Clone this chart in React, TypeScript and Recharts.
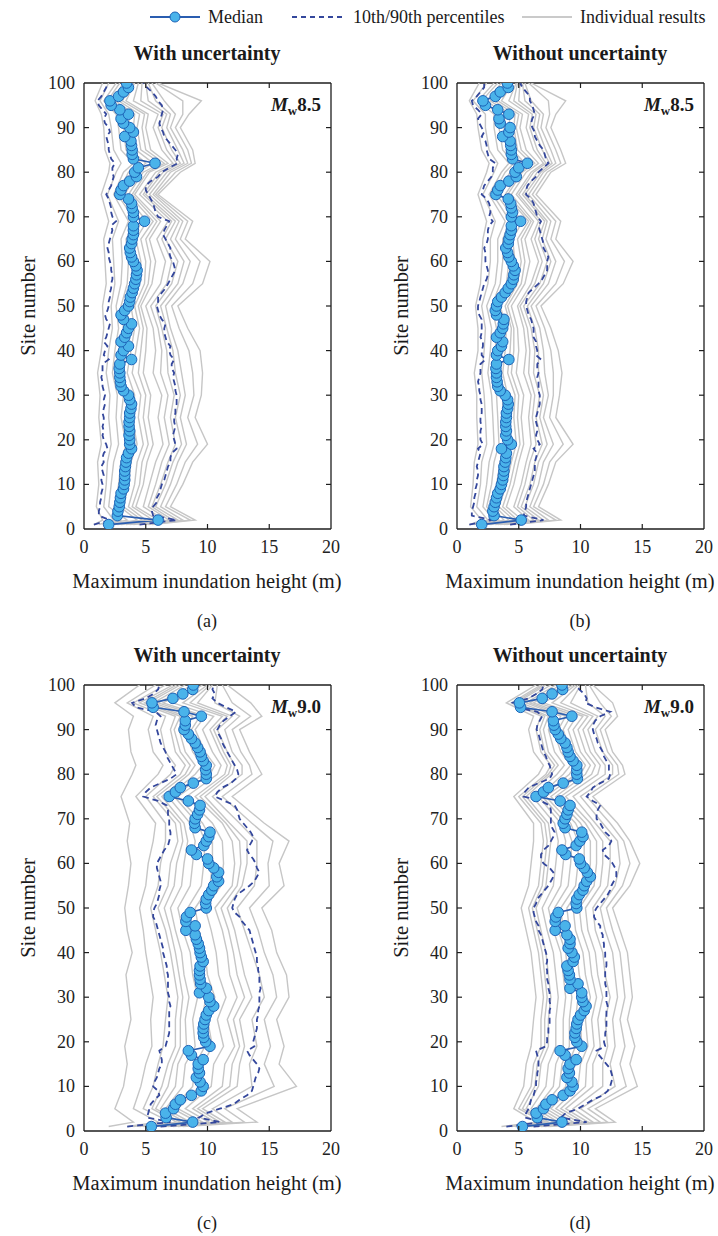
import React from "react";
import { ScatterChart, Scatter, XAxis, YAxis, ReferenceLine } from "recharts";

const FONT = "'Liberation Serif', 'Times New Roman', 'DejaVu Serif', serif";
const AXIS = "#1e1e1e";
const GREY = "#c6c6c6";
const DASH = "#34479c";
const MED_LINE = "#2a5db0";

// site numbers 1..100
const SITES = Array.from({ length: 100 }, (_, i) => i + 1);
const GREY_SITES = [1, 2, 5, 10, 15, 19, 25, 30, 35, 40, 45, 50, 55, 60, 65, 69, 75, 80, 82, 85, 90, 93, 96, 100];
const X_TICKS = [0, 5, 10, 15, 20];
const Y_TICKS = [0, 10, 20, 30, 40, 50, 60, 70, 80, 90, 100];

// ---- (a) Mw 8.5, with uncertainty
const medA = [
  2.0, 6.0, 2.7, 2.75, 2.85, 2.9, 2.95, 3.0, 3.2, 3.25,
  3.3, 3.3, 3.3, 3.35, 3.4, 3.45, 3.6, 3.85, 3.7, 3.7,
  3.65, 3.7, 3.65, 3.65, 3.7, 3.7, 3.8, 3.85, 3.7, 3.6,
  3.2, 3.0, 2.95, 2.9, 2.9, 2.85, 2.9, 3.85, 3.0, 3.2,
  3.6, 3.0, 3.3, 3.45, 3.6, 3.85, 3.2, 3.0, 3.3, 3.6,
  3.7, 3.75, 3.9, 4.0, 4.1, 4.2, 4.25, 4.3, 4.2, 4.0,
  3.85, 3.75, 3.7, 3.85, 3.9, 4.0, 4.0, 4.0, 4.9, 4.0,
  4.0, 3.9, 3.85, 3.6, 2.9, 3.0, 3.2, 3.7, 4.25, 4.1,
  4.4, 5.75, 4.0, 3.9, 3.9, 3.85, 3.8, 3.3, 4.0, 3.7,
  3.2, 3.0, 3.6, 2.9, 2.2, 2.1, 2.8, 3.2, 3.6, 3.45,
];
const p10A = [
  0.8, 2.1, 1.2, 1.2, 1.3, 1.3, 1.4, 1.4, 1.5, 1.5,
  1.4, 1.6, 1.5, 1.4, 1.6, 1.5, 1.6, 1.9, 1.8, 1.6,
  1.5, 1.6, 1.5, 1.6, 1.6, 1.5, 1.6, 1.7, 1.6, 1.7,
  1.6, 1.5, 1.5, 1.4, 1.5, 1.5, 1.5, 2.0, 1.6, 1.7,
  1.9, 1.6, 1.8, 1.9, 2.0, 2.1, 1.8, 1.7, 1.9, 2.0,
  2.0, 2.1, 2.1, 2.2, 2.2, 2.3, 2.3, 2.2, 2.2, 2.1,
  2.0, 2.0, 1.9, 2.0, 2.1, 2.2, 2.3, 2.2, 2.6, 2.3,
  2.2, 2.2, 2.1, 2.0, 1.8, 2.0, 2.2, 2.3, 2.4, 2.3,
  2.3, 2.5, 2.2, 2.1, 2.0, 2.0, 1.9, 1.8, 2.1, 2.0,
  1.7, 1.6, 1.8, 1.5, 1.2, 1.1, 1.4, 1.6, 1.8, 1.9,
];
const p90A = [
  4.5, 7.5, 5.6, 5.5, 5.6, 5.9, 5.9, 6.1, 6.2, 6.3,
  6.5, 6.6, 6.7, 6.8, 7.0, 7.0, 7.1, 7.5, 7.4, 7.3,
  7.2, 7.3, 7.4, 7.3, 7.3, 7.4, 7.4, 7.5, 7.5, 7.5,
  7.4, 7.4, 7.3, 7.2, 7.3, 7.1, 7.1, 7.3, 7.0, 6.9,
  7.0, 6.7, 6.6, 6.5, 6.5, 6.6, 6.3, 6.1, 6.0, 5.9,
  6.0, 6.0, 6.3, 6.6, 6.8, 7.0, 7.2, 7.4, 7.3, 7.2,
  7.0, 6.9, 7.0, 6.8, 6.6, 6.4, 6.5, 6.7, 6.9, 6.0,
  5.8, 5.7, 5.6, 5.4, 5.2, 5.0, 5.0, 5.4, 6.0, 6.3,
  6.9, 7.6, 7.5, 7.6, 7.4, 7.1, 6.8, 6.5, 6.4, 6.2,
  6.1, 6.2, 6.3, 6.4, 6.3, 6.0, 5.8, 5.5, 5.1, 4.8,
];
const greyA = [
  [0.8, 1.5, 1.0, 1.2, 1.1, 1.4, 1.2, 1.3, 1.1, 1.4, 1.6, 1.5, 1.8, 1.7, 1.6, 2.0, 1.4, 2.0, 2.1, 1.7, 1.6, 1.4, 0.9, 1.5],
  [1.5, 3.5, 2.0, 2.2, 2.4, 2.8, 2.6, 2.7, 2.3, 2.5, 2.8, 2.6, 3.0, 3.1, 3.0, 3.6, 2.4, 3.2, 4.0, 3.0, 2.8, 2.6, 1.6, 2.6],
  [2.5, 5.0, 3.6, 4.1, 4.3, 4.8, 4.4, 4.6, 3.9, 4.2, 4.5, 4.1, 4.9, 5.0, 4.6, 5.6, 3.6, 4.8, 6.2, 4.6, 4.3, 4.5, 2.8, 3.8],
  [3.4, 6.5, 4.8, 5.3, 5.8, 6.4, 6.0, 6.3, 5.6, 5.8, 5.6, 5.0, 6.2, 6.6, 5.9, 6.8, 4.5, 5.8, 7.2, 6.3, 5.6, 6.0, 4.0, 4.4],
  [4.8, 8.0, 6.2, 7.0, 7.6, 8.3, 7.8, 8.2, 7.9, 7.6, 7.0, 6.6, 8.0, 8.6, 7.4, 8.0, 5.6, 7.0, 8.4, 8.0, 7.0, 7.4, 6.5, 5.5],
  [5.5, 9.0, 7.0, 8.0, 8.8, 10.0, 9.0, 9.5, 9.6, 9.4, 8.4, 7.6, 9.6, 10.2, 8.2, 8.8, 6.0, 7.8, 9.0, 8.8, 7.8, 8.5, 9.5, 6.0],
  [1.2, 2.4, 1.6, 1.8, 1.9, 2.2, 2.0, 2.1, 1.8, 2.0, 2.3, 2.2, 2.5, 2.4, 2.3, 2.8, 1.9, 2.6, 3.0, 2.4, 2.2, 2.0, 1.3, 2.0],
  [2.0, 4.3, 2.9, 3.2, 3.4, 3.9, 3.5, 3.6, 3.1, 3.4, 3.7, 3.4, 4.0, 4.1, 3.9, 4.7, 3.0, 4.0, 5.0, 3.8, 3.6, 3.7, 2.2, 3.2],
  [3.0, 6.0, 4.2, 4.8, 5.1, 5.6, 5.2, 5.4, 4.8, 5.0, 5.1, 4.6, 5.5, 5.8, 5.3, 6.2, 4.1, 5.3, 6.8, 5.4, 5.0, 5.2, 3.4, 4.1],
  [4.0, 7.2, 5.5, 6.2, 6.8, 7.4, 7.0, 7.3, 6.8, 6.7, 6.3, 5.8, 7.1, 7.6, 6.6, 7.4, 5.0, 6.4, 7.8, 7.1, 6.3, 6.7, 5.2, 5.0],
  [1.8, 3.0, 2.5, 2.8, 3.0, 3.4, 3.0, 3.2, 2.7, 2.9, 3.2, 3.0, 3.5, 3.6, 3.4, 4.2, 2.7, 3.6, 4.6, 3.4, 3.2, 3.2, 1.9, 2.9],
  [2.7, 5.6, 3.9, 4.5, 4.7, 5.2, 4.8, 5.0, 4.4, 4.6, 4.8, 4.4, 5.2, 5.4, 5.0, 5.9, 3.9, 5.1, 6.5, 5.0, 4.7, 4.9, 3.1, 4.0],
  [3.7, 6.9, 5.2, 5.8, 6.3, 6.9, 6.5, 6.8, 6.2, 6.3, 6.0, 5.4, 6.7, 7.1, 6.3, 7.1, 4.8, 6.1, 7.5, 6.7, 6.0, 6.4, 4.6, 4.7],
  [4.4, 7.6, 5.8, 6.6, 7.2, 7.9, 7.4, 7.8, 7.4, 7.2, 6.7, 6.2, 7.6, 8.1, 7.0, 7.7, 5.3, 6.7, 8.1, 7.6, 6.7, 7.0, 5.8, 5.2],
  [2.3, 4.7, 3.2, 3.6, 3.8, 4.3, 3.9, 4.1, 3.5, 3.8, 4.1, 3.8, 4.5, 4.6, 4.2, 5.1, 3.3, 4.4, 5.6, 4.2, 4.0, 4.1, 2.5, 3.5],
  [5.2, 8.6, 6.6, 7.5, 8.2, 9.2, 8.4, 8.9, 8.8, 8.5, 7.7, 7.1, 8.8, 9.4, 7.8, 8.4, 5.8, 7.4, 8.7, 8.4, 7.4, 8.0, 8.0, 5.8],
];

// ---- (b) Mw 8.5, without uncertainty
const medB = [
  2.0, 5.2, 3.0, 2.9, 3.0, 3.1, 3.2, 3.3, 3.5, 3.6,
  3.7, 3.75, 3.8, 3.8, 3.9, 3.95, 4.0, 3.6, 4.4, 4.1,
  3.95, 4.0, 3.95, 3.95, 4.0, 4.0, 4.1, 4.15, 4.1, 3.9,
  3.5, 3.3, 3.25, 3.2, 3.2, 3.15, 3.2, 4.2, 3.2, 3.3,
  3.6, 3.7, 3.2, 3.5, 3.7, 3.75, 3.8, 3.2, 3.1, 3.2,
  3.3, 3.6, 3.9, 4.15, 4.4, 4.55, 4.6, 4.7, 4.56, 4.4,
  4.2, 4.1, 3.95, 4.15, 4.2, 4.3, 4.4, 4.4, 5.15, 4.4,
  4.5, 4.4, 4.35, 4.15, 3.15, 3.3, 3.5, 4.2, 4.8, 4.7,
  5.0, 5.7, 4.5, 4.4, 4.4, 4.35, 4.3, 3.7, 4.2, 4.3,
  3.5, 3.4, 4.2, 3.3, 2.3, 2.1, 3.1, 3.5, 4.15, 4.08,
];
const p10B = [
  1.0, 2.8, 1.2, 1.2, 1.3, 1.4, 1.4, 1.5, 1.5, 1.6,
  1.6, 1.7, 1.7, 1.6, 1.7, 1.8, 1.9, 1.7, 2.1, 1.9,
  1.9, 1.9, 2.0, 1.9, 1.9, 2.0, 2.0, 2.0, 1.9, 1.9,
  1.8, 1.8, 1.7, 1.8, 1.9, 1.9, 1.9, 2.3, 2.0, 2.0,
  2.1, 2.1, 1.9, 2.0, 2.0, 2.0, 2.0, 1.8, 1.7, 1.7,
  1.8, 1.9, 2.0, 2.1, 2.2, 2.4, 2.5, 2.5, 2.4, 2.3,
  2.3, 2.3, 2.2, 2.4, 2.5, 2.5, 2.5, 2.6, 2.9, 2.6,
  2.7, 2.7, 2.6, 2.4, 2.0, 2.1, 2.2, 2.5, 2.8, 2.9,
  2.9, 3.1, 2.6, 2.5, 2.4, 2.4, 2.3, 2.0, 2.2, 2.0,
  1.8, 1.7, 2.0, 1.7, 1.3, 1.2, 1.6, 1.9, 2.2, 2.2,
];
const p90B = [
  4.3, 7.0, 5.4, 5.5, 5.6, 5.6, 5.7, 5.8, 5.9, 6.0,
  6.1, 6.2, 6.3, 6.3, 6.3, 6.4, 6.5, 6.2, 6.7, 6.5,
  6.4, 6.5, 6.5, 6.4, 6.4, 6.5, 6.6, 6.7, 6.7, 6.7,
  6.6, 6.6, 6.6, 6.5, 6.6, 6.5, 6.5, 6.8, 6.4, 6.5,
  6.4, 6.4, 6.2, 6.2, 6.2, 6.1, 6.0, 5.8, 5.7, 5.6,
  5.6, 5.7, 5.8, 6.2, 6.6, 6.9, 7.1, 7.3, 7.3, 7.3,
  7.4, 7.2, 7.0, 7.0, 6.9, 6.8, 6.7, 6.6, 6.8, 6.5,
  6.4, 6.3, 6.2, 6.0, 5.6, 5.6, 5.7, 6.0, 6.4, 6.6,
  7.0, 7.4, 7.2, 7.1, 7.0, 6.7, 6.5, 6.3, 6.3, 6.1,
  6.0, 6.1, 6.3, 6.2, 6.1, 5.9, 5.9, 5.6, 5.3, 5.1,
];
const greyB = [
  [1.0, 2.0, 1.1, 1.3, 1.4, 1.7, 1.6, 1.6, 1.4, 1.7, 1.7, 1.5, 1.9, 2.0, 2.1, 2.4, 1.7, 2.4, 2.6, 2.0, 1.7, 1.6, 1.0, 1.8],
  [1.4, 3.0, 2.1, 2.4, 2.6, 3.0, 2.9, 2.8, 2.5, 2.7, 2.8, 2.4, 3.1, 3.3, 3.3, 3.9, 2.6, 3.6, 4.2, 3.3, 3.0, 3.0, 1.7, 3.0],
  [2.2, 4.6, 3.4, 4.0, 4.4, 4.8, 4.6, 4.7, 4.1, 4.3, 4.4, 3.9, 4.9, 5.2, 4.9, 5.8, 3.9, 5.1, 6.0, 4.9, 4.6, 4.7, 3.0, 4.2],
  [3.1, 5.8, 4.6, 5.2, 5.6, 6.0, 5.8, 6.0, 5.4, 5.6, 5.4, 4.9, 6.0, 6.6, 6.0, 6.6, 4.8, 6.0, 7.0, 6.2, 5.6, 5.8, 4.2, 4.8],
  [4.0, 7.4, 5.9, 6.6, 7.0, 7.8, 7.0, 7.4, 7.1, 7.0, 6.7, 6.0, 7.4, 8.0, 7.2, 7.6, 5.8, 7.0, 8.0, 7.6, 6.8, 7.0, 6.0, 5.5],
  [4.6, 8.4, 6.6, 7.4, 8.0, 9.4, 8.0, 8.3, 8.5, 8.2, 7.6, 6.8, 8.6, 9.4, 8.0, 8.4, 6.4, 7.6, 8.8, 8.4, 7.6, 8.0, 8.8, 6.0],
  [1.2, 2.5, 1.6, 1.9, 2.0, 2.4, 2.3, 2.2, 2.0, 2.2, 2.3, 2.0, 2.5, 2.7, 2.7, 3.1, 2.1, 3.0, 3.3, 2.6, 2.3, 2.3, 1.3, 2.4],
  [1.8, 3.8, 2.8, 3.2, 3.5, 3.9, 3.7, 3.7, 3.3, 3.5, 3.6, 3.2, 4.0, 4.2, 4.1, 4.8, 3.2, 4.3, 5.1, 4.1, 3.8, 3.9, 2.4, 3.6],
  [2.7, 5.3, 4.0, 4.6, 5.0, 5.4, 5.2, 5.4, 4.8, 5.0, 4.9, 4.4, 5.5, 5.9, 5.5, 6.2, 4.4, 5.6, 6.6, 5.6, 5.1, 5.3, 3.6, 4.5],
  [3.5, 6.6, 5.2, 5.9, 6.3, 6.9, 6.4, 6.7, 6.2, 6.3, 6.0, 5.4, 6.7, 7.3, 6.6, 7.1, 5.3, 6.5, 7.5, 6.9, 6.2, 6.4, 5.0, 5.1],
  [1.6, 3.4, 2.4, 2.8, 3.0, 3.4, 3.3, 3.2, 2.9, 3.1, 3.2, 2.8, 3.5, 3.7, 3.7, 4.3, 2.9, 3.9, 4.6, 3.7, 3.4, 3.4, 2.0, 3.3],
  [2.4, 4.9, 3.7, 4.3, 4.7, 5.1, 4.9, 5.0, 4.4, 4.6, 4.6, 4.1, 5.2, 5.5, 5.2, 6.0, 4.1, 5.3, 6.3, 5.2, 4.8, 5.0, 3.3, 4.3],
  [3.3, 6.2, 4.9, 5.5, 5.9, 6.4, 6.1, 6.3, 5.8, 5.9, 5.7, 5.1, 6.3, 6.9, 6.3, 6.8, 5.0, 6.2, 7.2, 6.5, 5.9, 6.1, 4.6, 4.9],
  [3.8, 7.0, 5.5, 6.2, 6.6, 7.3, 6.7, 7.0, 6.6, 6.6, 6.3, 5.7, 7.0, 7.6, 6.9, 7.3, 5.5, 6.8, 7.7, 7.2, 6.5, 6.7, 5.5, 5.3],
  [2.0, 4.2, 3.1, 3.6, 3.9, 4.3, 4.1, 4.1, 3.7, 3.9, 4.0, 3.5, 4.4, 4.7, 4.5, 5.3, 3.5, 4.7, 5.5, 4.5, 4.2, 4.3, 2.7, 3.9],
  [4.3, 8.0, 6.2, 7.0, 7.5, 8.6, 7.5, 7.8, 7.8, 7.6, 7.1, 6.4, 8.0, 8.7, 7.6, 8.0, 6.1, 7.3, 8.4, 8.0, 7.2, 7.5, 7.4, 5.8],
];

// ---- (c) Mw 9.0, with uncertainty
const medC = [
  5.45, 8.8, 6.65, 6.6, 7.25, 7.4, 7.8, 8.7, 9.5, 9.65,
  9.4, 9.1, 9.35, 9.25, 9.25, 9.65, 8.7, 8.45, 10.2, 9.85,
  9.7, 9.65, 9.65, 9.7, 9.8, 9.9, 10.1, 10.5, 10.2, 10.1,
  9.35, 9.9, 9.45, 9.4, 9.35, 9.35, 9.4, 9.65, 9.5, 9.4,
  9.35, 9.25, 9.1, 9.0, 8.25, 9.0, 8.25, 8.3, 8.6, 9.9,
  9.85, 9.9, 10.1, 10.35, 10.5, 10.9, 10.75, 10.9, 10.5, 10.1,
  10.0, 9.1, 8.7, 9.7, 9.9, 10.1, 10.2, 9.0, 8.95, 9.0,
  9.2, 9.35, 9.4, 8.45, 6.9, 7.4, 7.8, 8.85, 9.9, 9.9,
  9.85, 9.9, 9.65, 9.5, 9.4, 9.2, 9.0, 8.7, 8.45, 8.1,
  8.2, 8.2, 9.5, 8.1, 5.6, 5.5, 7.2, 8.0, 8.8, 8.85,
];
const p10C = [
  3.5, 7.0, 5.1, 5.2, 5.3, 5.4, 5.7, 6.1, 6.0, 5.6,
  5.7, 5.9, 6.0, 6.1, 6.3, 6.3, 6.2, 6.1, 6.6, 6.7,
  6.8, 6.9, 6.9, 6.9, 6.9, 6.9, 6.9, 7.0, 6.9, 6.9,
  6.8, 6.8, 6.8, 6.8, 6.8, 6.7, 6.7, 6.6, 6.5, 6.4,
  6.4, 6.3, 6.2, 6.1, 6.0, 5.9, 5.8, 5.6, 5.6, 5.7,
  5.9, 6.0, 6.1, 6.1, 6.2, 6.2, 6.1, 6.0, 5.9, 5.9,
  6.1, 6.3, 6.5, 6.8, 6.9, 7.0, 7.0, 6.9, 6.9, 6.9,
  6.8, 6.8, 6.7, 6.0, 4.8, 5.0, 5.4, 6.2, 7.0, 7.5,
  7.3, 7.1, 6.9, 6.7, 6.6, 6.4, 6.2, 6.1, 6.0, 5.9,
  5.8, 5.9, 6.2, 5.8, 4.2, 3.9, 5.0, 5.6, 6.0, 6.1,
];
const p90C = [
  6.2, 11.0, 9.3, 9.9, 11.0, 12.1, 12.6, 13.2, 13.6, 13.7,
  13.8, 13.9, 14.1, 14.2, 14.0, 13.7, 13.4, 13.2, 13.8, 13.7,
  13.8, 13.9, 14.0, 14.0, 14.0, 14.1, 14.1, 14.2, 14.2, 14.2,
  14.2, 14.3, 14.2, 14.2, 14.2, 14.1, 14.1, 14.0, 14.0, 13.9,
  13.8, 13.7, 13.6, 13.5, 13.4, 13.1, 12.8, 12.6, 12.2, 12.0,
  12.1, 12.2, 12.4, 12.9, 13.4, 13.8, 14.0, 14.2, 14.0, 13.9,
  13.7, 13.4, 13.2, 13.4, 13.6, 13.7, 13.5, 13.2, 12.9, 12.6,
  12.5, 12.4, 12.2, 11.4, 10.6, 10.8, 11.2, 11.9, 12.3, 12.5,
  12.4, 12.2, 12.0, 11.8, 11.6, 11.4, 11.2, 11.1, 10.9, 10.8,
  11.0, 11.3, 11.8, 12.3, 11.5, 10.8, 10.4, 10.6, 10.4, 10.5,
];
const greyC = [
  [2.0, 4.0, 2.5, 3.2, 3.5, 3.3, 3.8, 3.6, 3.4, 3.9, 3.5, 3.3, 3.6, 3.8, 3.5, 3.7, 3.0, 3.9, 4.2, 3.8, 3.6, 4.0, 2.5, 4.5],
  [3.5, 6.0, 4.0, 4.6, 5.0, 5.5, 5.4, 5.6, 5.3, 5.0, 4.8, 4.5, 5.0, 5.2, 5.6, 5.8, 4.2, 6.0, 6.4, 5.6, 5.2, 5.6, 3.5, 5.8],
  [4.5, 7.5, 5.5, 6.3, 6.8, 7.4, 7.4, 7.6, 7.3, 7.0, 6.6, 6.0, 6.8, 7.0, 7.6, 7.4, 5.6, 7.8, 8.2, 7.4, 7.0, 7.4, 4.5, 7.2],
  [5.2, 8.6, 6.6, 8.0, 8.2, 9.0, 8.8, 9.2, 8.8, 8.6, 8.0, 7.6, 8.6, 8.8, 9.0, 8.6, 6.8, 9.0, 9.6, 8.8, 8.2, 8.8, 5.6, 8.2],
  [5.8, 9.6, 7.6, 9.4, 9.6, 10.4, 10.0, 10.6, 10.0, 9.8, 9.3, 9.0, 10.2, 10.4, 10.4, 9.6, 7.6, 10.2, 10.6, 9.8, 9.0, 9.8, 6.4, 9.2],
  [6.4, 10.6, 8.8, 11.2, 11.4, 12.2, 11.6, 12.4, 11.8, 11.6, 11.2, 10.6, 12.0, 12.2, 12.0, 11.2, 9.0, 11.4, 11.6, 11.0, 10.2, 11.2, 8.0, 10.0],
  [7.2, 12.0, 10.4, 13.6, 13.4, 14.0, 13.6, 14.6, 14.2, 13.6, 13.0, 12.4, 13.8, 14.0, 14.0, 12.6, 10.4, 12.8, 12.8, 12.0, 11.4, 12.6, 10.6, 10.8],
  [8.0, 14.0, 12.4, 17.2, 15.8, 16.2, 15.6, 16.6, 16.4, 15.6, 15.2, 14.4, 16.2, 15.8, 16.6, 14.6, 12.0, 14.4, 14.0, 13.4, 12.6, 14.4, 13.5, 11.6],
  [4.0, 7.0, 4.8, 5.6, 6.0, 6.4, 6.6, 6.8, 6.5, 6.2, 5.8, 5.4, 6.0, 6.2, 6.6, 6.6, 5.0, 7.0, 7.4, 6.6, 6.2, 6.6, 4.0, 6.6],
  [6.8, 11.4, 9.6, 12.4, 12.6, 13.0, 12.6, 13.6, 13.0, 12.6, 12.2, 11.6, 12.8, 13.2, 13.2, 11.8, 9.8, 12.0, 12.2, 11.6, 10.8, 12.0, 9.2, 10.4],
  [5.0, 8.2, 6.2, 7.4, 7.6, 8.3, 8.2, 8.5, 8.1, 7.9, 7.4, 7.0, 7.9, 8.1, 8.4, 8.1, 6.3, 8.5, 9.0, 8.2, 7.7, 8.2, 5.2, 7.8],
  [5.6, 9.2, 7.2, 8.8, 9.0, 9.8, 9.5, 9.9, 9.5, 9.2, 8.7, 8.4, 9.5, 9.7, 9.8, 9.2, 7.3, 9.7, 10.2, 9.4, 8.7, 9.4, 6.0, 8.8],
  [6.1, 10.1, 8.2, 10.3, 10.5, 11.3, 10.8, 11.5, 10.9, 10.7, 10.3, 9.8, 11.1, 11.3, 11.2, 10.4, 8.3, 10.8, 11.1, 10.4, 9.6, 10.5, 7.2, 9.6],
  [6.6, 11.0, 9.2, 11.8, 12.0, 12.6, 12.1, 13.0, 12.4, 12.1, 11.7, 11.1, 12.4, 12.7, 12.6, 11.5, 9.4, 11.7, 11.9, 11.3, 10.5, 11.6, 8.6, 10.2],
  [7.6, 13.0, 11.4, 15.4, 14.6, 15.1, 14.6, 15.6, 15.3, 14.6, 14.1, 13.4, 15.0, 14.9, 15.3, 13.6, 11.2, 13.6, 13.4, 12.7, 12.0, 13.5, 12.0, 11.2],
  [4.8, 7.8, 5.8, 6.8, 7.2, 7.8, 7.8, 8.0, 7.7, 7.4, 7.0, 6.5, 7.3, 7.5, 8.0, 7.8, 5.9, 8.2, 8.6, 7.8, 7.3, 7.8, 4.9, 7.5],
];

// ---- (d) Mw 9.0, without uncertainty
const medD = [
  5.3, 8.5, 6.5, 6.4, 7.0, 7.2, 7.7, 8.6, 9.15, 9.4,
  9.3, 8.9, 9.1, 9.0, 9.15, 9.65, 8.75, 8.35, 10.1, 9.7,
  9.55, 9.55, 9.65, 9.7, 9.8, 10.0, 10.3, 10.45, 10.2, 10.1,
  10.1, 9.15, 9.8, 9.15, 9.1, 9.0, 8.9, 9.4, 9.5, 9.3,
  9.0, 9.15, 9.15, 8.9, 7.95, 8.75, 7.95, 8.0, 8.2, 9.7,
  9.65, 9.7, 9.9, 10.2, 10.3, 10.5, 10.8, 10.55, 10.3, 10.0,
  9.9, 8.8, 8.5, 9.65, 9.95, 10.2, 10.1, 8.75, 8.6, 8.75,
  8.9, 9.0, 9.15, 8.35, 6.4, 7.0, 7.4, 8.6, 9.75, 9.7,
  9.7, 9.7, 9.4, 9.15, 9.0, 8.9, 8.75, 8.4, 8.2, 7.95,
  7.85, 7.8, 9.3, 7.7, 5.15, 5.05, 6.9, 7.7, 8.55, 8.5,
];
const p10D = [
  4.0, 7.0, 5.5, 5.6, 5.8, 5.9, 6.0, 6.2, 6.3, 6.4,
  6.4, 6.5, 6.5, 6.6, 6.6, 6.6, 6.5, 6.4, 7.2, 7.3,
  7.3, 7.4, 7.4, 7.5, 7.5, 7.5, 7.5, 7.6, 7.5, 7.5,
  7.5, 7.4, 7.4, 7.3, 7.3, 7.3, 7.2, 7.3, 7.3, 7.2,
  7.1, 7.0, 6.9, 6.8, 6.6, 6.6, 6.4, 6.3, 6.2, 6.2,
  6.4, 6.5, 6.8, 7.1, 7.4, 7.6, 7.8, 7.8, 7.5, 7.0,
  6.8, 6.8, 7.0, 7.4, 7.6, 7.8, 7.9, 7.7, 7.6, 7.6,
  7.6, 7.6, 7.5, 6.8, 5.4, 5.5, 5.8, 6.6, 7.5, 7.7,
  7.6, 7.5, 7.3, 7.2, 7.0, 6.9, 6.8, 6.7, 6.6, 6.45,
  6.5, 6.7, 6.9, 6.5, 4.8, 4.5, 5.8, 6.4, 6.9, 7.0,
];
const p90D = [
  6.2, 10.5, 8.4, 8.8, 9.8, 10.4, 11.0, 11.8, 12.2, 12.4,
  12.5, 12.6, 12.5, 12.4, 12.1, 11.8, 11.5, 11.3, 12.0, 11.9,
  12.0, 12.0, 12.1, 12.1, 12.1, 12.1, 12.1, 12.2, 12.1, 12.1,
  12.1, 12.1, 12.0, 12.0, 12.0, 12.0, 12.1, 12.1, 12.0, 12.0,
  11.9, 11.9, 11.8, 11.8, 11.6, 11.6, 11.3, 11.1, 11.1, 11.3,
  11.6, 11.9, 12.2, 12.4, 12.5, 12.7, 12.9, 12.9, 12.8, 12.6,
  12.3, 11.9, 11.8, 12.3, 12.5, 12.4, 12.0, 11.8, 11.6, 11.3,
  11.3, 11.4, 11.6, 11.0, 10.5, 10.8, 11.0, 11.6, 12.3, 12.4,
  12.3, 12.3, 12.1, 11.9, 11.8, 11.6, 11.4, 11.3, 11.1, 11.0,
  11.0, 11.2, 11.6, 12.4, 11.2, 10.4, 10.5, 10.3, 9.9, 9.7,
];
const greyD = [
  [3.6, 6.4, 4.6, 5.4, 5.6, 6.0, 6.2, 6.4, 6.2, 6.0, 5.6, 5.2, 5.8, 6.0, 6.2, 6.2, 4.6, 6.6, 7.0, 6.2, 5.8, 6.2, 4.0, 6.4],
  [4.4, 7.4, 5.6, 6.6, 6.8, 7.4, 7.4, 7.6, 7.4, 7.2, 6.8, 6.4, 7.2, 7.4, 7.6, 7.4, 5.6, 7.6, 8.2, 7.4, 7.0, 7.4, 4.8, 7.2],
  [5.0, 8.2, 6.4, 7.8, 8.0, 8.6, 8.6, 8.8, 8.6, 8.4, 7.8, 7.4, 8.4, 8.6, 8.8, 8.4, 6.6, 8.6, 9.2, 8.4, 7.8, 8.4, 5.6, 8.0],
  [5.4, 9.0, 7.2, 8.8, 9.0, 9.6, 9.6, 9.8, 9.4, 9.2, 8.6, 8.4, 9.6, 9.8, 9.8, 9.2, 7.2, 9.6, 10.0, 9.2, 8.6, 9.2, 6.2, 8.8],
  [5.8, 9.8, 8.0, 9.8, 10.0, 10.6, 10.4, 10.8, 10.4, 10.2, 9.6, 9.4, 10.6, 10.8, 10.8, 10.0, 8.0, 10.4, 10.8, 10.0, 9.4, 10.2, 7.0, 9.4],
  [6.2, 10.6, 8.8, 11.0, 11.0, 11.6, 11.4, 11.8, 11.4, 11.2, 10.6, 10.4, 11.6, 11.8, 11.8, 10.8, 8.8, 11.4, 11.6, 10.8, 10.2, 11.0, 8.4, 9.8],
  [6.8, 11.6, 10.0, 12.8, 12.4, 12.8, 12.6, 13.0, 12.8, 12.6, 12.0, 11.6, 12.8, 13.2, 13.0, 11.8, 10.0, 12.6, 12.6, 11.8, 11.2, 12.0, 10.6, 10.4],
  [7.4, 12.8, 11.2, 14.6, 14.0, 14.4, 13.8, 14.2, 14.0, 13.8, 13.2, 12.6, 14.0, 14.8, 14.0, 13.0, 11.0, 13.6, 13.4, 12.6, 12.0, 13.0, 12.6, 11.0],
  [4.0, 7.0, 5.0, 6.0, 6.2, 6.8, 6.8, 7.0, 6.8, 6.6, 6.2, 5.8, 6.6, 6.8, 7.0, 6.8, 5.0, 7.2, 7.6, 6.8, 6.4, 6.8, 4.4, 6.8],
  [6.5, 11.0, 9.4, 11.8, 11.8, 12.2, 12.0, 12.4, 12.0, 11.8, 11.2, 11.0, 12.2, 12.4, 12.4, 11.2, 9.4, 12.0, 12.0, 11.2, 10.6, 11.4, 9.2, 10.0],
  [4.7, 7.8, 6.0, 7.2, 7.4, 8.0, 8.0, 8.2, 8.0, 7.8, 7.3, 6.9, 7.8, 8.0, 8.2, 7.9, 6.1, 8.1, 8.7, 7.9, 7.4, 7.9, 5.2, 7.6],
  [5.2, 8.6, 6.8, 8.3, 8.5, 9.1, 9.1, 9.3, 9.0, 8.8, 8.2, 7.9, 9.0, 9.2, 9.3, 8.8, 6.9, 9.1, 9.6, 8.8, 8.2, 8.8, 5.9, 8.4],
  [5.6, 9.4, 7.6, 9.3, 9.5, 10.1, 10.0, 10.3, 9.9, 9.7, 9.1, 8.9, 10.1, 10.3, 10.3, 9.6, 7.6, 10.0, 10.4, 9.6, 9.0, 9.7, 6.6, 9.1],
  [6.0, 10.2, 8.4, 10.4, 10.5, 11.1, 10.9, 11.3, 10.9, 10.7, 10.1, 9.9, 11.1, 11.3, 11.3, 10.4, 8.4, 10.9, 11.2, 10.4, 9.8, 10.6, 7.7, 9.6],
  [7.1, 12.2, 10.6, 13.7, 13.2, 13.6, 13.2, 13.6, 13.4, 13.2, 12.6, 12.1, 13.4, 14.0, 13.5, 12.4, 10.5, 13.1, 13.0, 12.2, 11.6, 12.5, 11.6, 10.7],
  [4.2, 7.2, 5.3, 6.3, 6.5, 7.1, 7.1, 7.3, 7.1, 6.9, 6.5, 6.1, 6.9, 7.1, 7.3, 7.1, 5.3, 7.4, 7.9, 7.1, 6.7, 7.1, 4.6, 7.0],
];

type Pt = { x: number; y: number };
const toPts = (vals: number[], ys: number[]): Pt[] => vals.map((v, i) => ({ x: v, y: ys[i] }));

const MedianDot = (p: any) => (
  <circle cx={p.cx} cy={p.cy} r={5.3} fill="#4ab3ea" stroke="#1c63b7" strokeWidth={1} />
);
const NoDot = () => <g />;

// chart box; plot area inside is 84..331 x 53..499 (chart coords)
const W = 360;
const H = 600;
const M = { top: 53, right: 29, left: 34, bottom: 71 };
const PLOT_TOP = M.top;
const PLOT_RIGHT = W - M.right;
const fontStyle = { fontFamily: FONT };

const xTick = (p: any) => {
  const v = p.payload.value;
  const inner = v !== 0 && v !== 20;
  return (
    <g>
      {inner && <line x1={p.x} x2={p.x} y1={p.y} y2={p.y - 5} stroke={AXIS} strokeWidth={1.2} />}
      {inner && <line x1={p.x} x2={p.x} y1={PLOT_TOP} y2={PLOT_TOP + 5} stroke={AXIS} strokeWidth={1.2} />}
      <text x={p.x} y={p.y + 24} textAnchor="middle" fontSize={18} style={fontStyle} fill="#222">
        {v}
      </text>
    </g>
  );
};

const yTick = (p: any) => {
  const v = p.payload.value;
  const inner = v !== 0 && v !== 100;
  return (
    <g>
      {inner && <line x1={p.x} x2={p.x + 5} y1={p.y} y2={p.y} stroke={AXIS} strokeWidth={1.2} />}
      {inner && <line x1={PLOT_RIGHT} x2={PLOT_RIGHT - 5} y1={p.y} y2={p.y} stroke={AXIS} strokeWidth={1.2} />}
      <text x={p.x - 9} y={p.y + 6} textAnchor="end" fontSize={18} style={fontStyle} fill="#222">
        {v}
      </text>
    </g>
  );
};

interface PanelProps {
  left: number;
  top: number;
  median: number[];
  p10: number[];
  p90: number[];
  greys: number[][];
}

function Panel({ left, top, median, p10, p90, greys }: PanelProps) {
  return (
    <div style={{ position: "absolute", left, top, width: W, height: H }}>
      <ScatterChart width={W} height={H} margin={M}>
        <XAxis
          type="number"
          dataKey="x"
          domain={[0, 20]}
          ticks={X_TICKS}
          allowDataOverflow
          height={30}
          tickSize={0}
          tickMargin={0}
          tickLine={false}
          axisLine={{ stroke: AXIS, strokeWidth: 1.3 }}
          tick={xTick}
        />
        <YAxis
          type="number"
          dataKey="y"
          domain={[0, 100]}
          ticks={Y_TICKS}
          allowDataOverflow
          width={50}
          tickSize={0}
          tickMargin={0}
          tickLine={false}
          axisLine={{ stroke: AXIS, strokeWidth: 1.3 }}
          tick={yTick}
        />
        {greys.map((g, i) => (
          <Scatter
            key={i}
            data={toPts(g, GREY_SITES)}
            line={{ stroke: GREY, strokeWidth: 1.4 }}
            shape={NoDot}
            isAnimationActive={false}
          />
        ))}
        <Scatter
          data={toPts(p10, SITES)}
          line={{ stroke: DASH, strokeWidth: 1.8, strokeDasharray: "6 4" }}
          shape={NoDot}
          isAnimationActive={false}
        />
        <Scatter
          data={toPts(p90, SITES)}
          line={{ stroke: DASH, strokeWidth: 1.8, strokeDasharray: "6 4" }}
          shape={NoDot}
          isAnimationActive={false}
        />
        <Scatter
          data={toPts(median, SITES)}
          line={{ stroke: MED_LINE, strokeWidth: 1.7 }}
          shape={MedianDot}
          isAnimationActive={false}
        />
        <ReferenceLine y={100} stroke={AXIS} strokeWidth={1.3} />
        <ReferenceLine x={20} stroke={AXIS} strokeWidth={1.3} />
      </ScatterChart>
    </div>
  );
}

function Labels({ dx, dy, title, mw, caption }: { dx: number; dy: number; title: string; mw: string; caption: string }) {
  return (
    <g transform={`translate(${dx},${dy})`} style={fontStyle} fill="#1a1a1a">
      <text x={207} y={60} textAnchor="middle" fontSize={20} fontWeight="bold">
        {title}
      </text>
      <text x={321} y={111} textAnchor="end" fontSize={19} fontWeight="bold">
        <tspan fontStyle="italic">M</tspan>
        <tspan fontSize={13} dy={4}>w</tspan>
        <tspan dy={-4}>{mw}</tspan>
      </text>
      <text x={207} y={588} textAnchor="middle" fontSize={20.5}>
        Maximum inundation height (m)
      </text>
      <text transform="translate(35,306) rotate(-90)" textAnchor="middle" fontSize={20.5}>
        Site number
      </text>
      <text x={207} y={627} textAnchor="middle" fontSize={18}>
        {caption}
      </text>
    </g>
  );
}

export default function App() {
  return (
    <div
      style={{
        position: "absolute",
        left: 0,
        top: 0,
        width: 718,
        height: 1236,
        background: "#fff",
        overflow: "hidden",
        fontFamily: FONT,
      }}
    >
      <Panel left={0} top={30} median={medA} p10={p10A} p90={p90A} greys={greyA} />
      <Panel left={373} top={30} median={medB} p10={p10B} p90={p90B} greys={greyB} />
      <Panel left={0} top={632} median={medC} p10={p10C} p90={p90C} greys={greyC} />
      <Panel left={373} top={632} median={medD} p10={p10D} p90={p90D} greys={greyD} />
      <svg width={718} height={1236} style={{ position: "absolute", left: 0, top: 0, pointerEvents: "none" }}>
        <g style={fontStyle} fill="#1a1a1a" fontSize={18}>
          <line x1={150} x2={200} y1={17} y2={17} stroke={MED_LINE} strokeWidth={2} />
          <circle cx={175} cy={17} r={5} fill="#4ab3ea" stroke="#1c63b7" strokeWidth={1} />
          <text x={208} y={23}>Median</text>
          <line x1={292} x2={345} y1={17} y2={17} stroke={DASH} strokeWidth={2} strokeDasharray="5 4" />
          <text x={353} y={23}>10th/90th percentiles</text>
          <line x1={522} x2={572} y1={17} y2={17} stroke="#b8b8b8" strokeWidth={1.5} />
          <text x={580} y={23}>Individual results</text>
        </g>
        <Labels dx={0} dy={0} title="With uncertainty" mw="8.5" caption="(a)" />
        <Labels dx={373} dy={0} title="Without uncertainty" mw="8.5" caption="(b)" />
        <Labels dx={0} dy={602} title="With uncertainty" mw="9.0" caption="(c)" />
        <Labels dx={373} dy={602} title="Without uncertainty" mw="9.0" caption="(d)" />
      </svg>
    </div>
  );
}
